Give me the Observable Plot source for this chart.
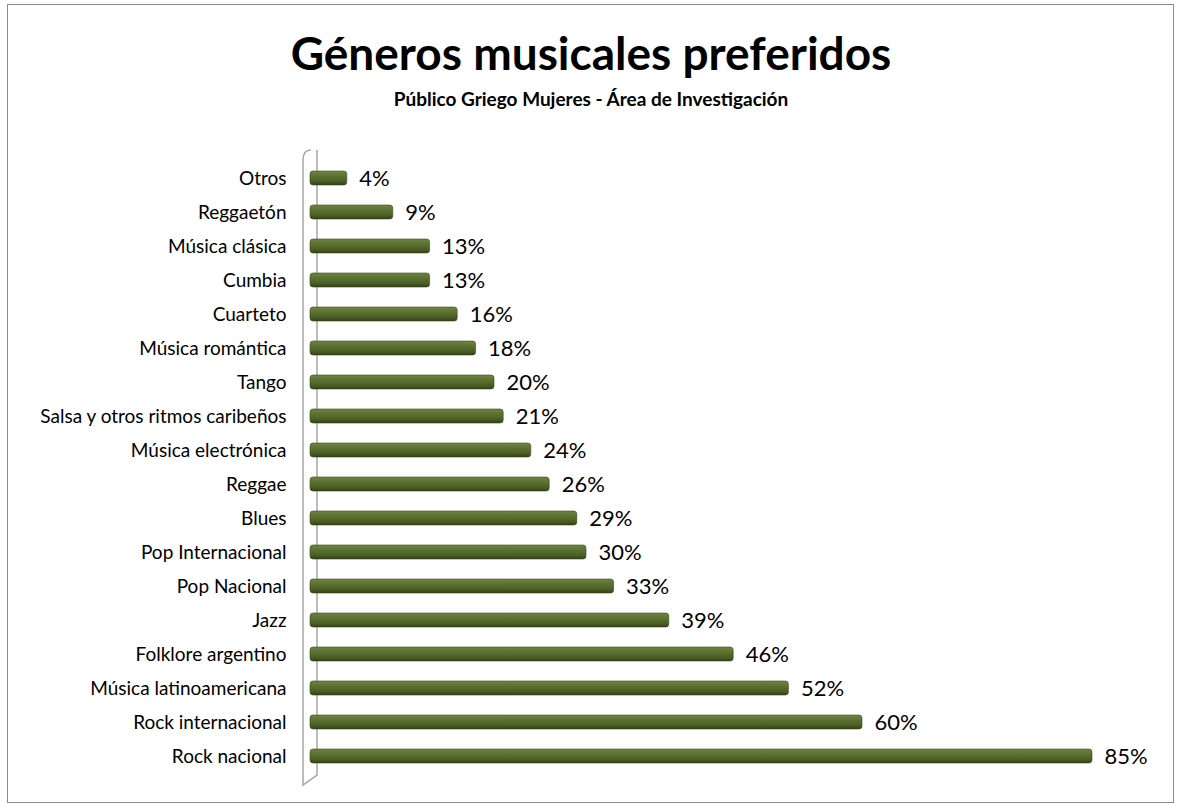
<!DOCTYPE html>
<html>
<head>
<meta charset="utf-8">
<script src="https://cdn.jsdelivr.net/npm/d3@7"></script>
<script src="https://cdn.jsdelivr.net/npm/@observablehq/plot@0.6"></script>
<style>
  html, body { margin: 0; padding: 0; background: #fff; }
  #wrap { position: relative; width: 1182px; height: 811px; font-family: Lato, "Open Sans", sans-serif; }
  #border { position: absolute; left: 7px; top: 4px; width: 1167px; height: 799px; border: 1px solid #8c8c8c; box-sizing: border-box; }
  #title { position: absolute; left: 0; width: 1182px; top: 25px; text-align: center; font-size: 46px; font-weight: bold; color: #000; line-height: 1.2; }
  #subtitle { position: absolute; left: 0; width: 1182px; top: 88px; text-align: center; font-size: 19px; font-weight: bold; color: #000; line-height: 1.2; }
  #chart { position: absolute; left: 0; top: 130px; }
  #chart svg g[aria-label="y-axis tick label"] text { font-size: 19px; }
</style>
</head>
<body>
<div id="wrap">
  <div id="border"></div>
  <div id="title">Géneros musicales preferidos</div>
  <div id="subtitle">Público Griego Mujeres - Área de Investigación</div>
  <div id="chart"></div>
</div>
<script>
const categories = [
  "Otros", "Reggaetón", "Música clásica", "Cumbia", "Cuarteto", "Música romántica",
  "Tango", "Salsa y otros ritmos caribeños", "Música electrónica", "Reggae", "Blues",
  "Pop Internacional", "Pop Nacional", "Jazz", "Folklore argentino",
  "Música latinoamericana", "Rock internacional", "Rock nacional"
];
const values = [4, 9, 13, 13, 16, 18, 20, 21, 24, 26, 29, 30, 33, 39, 46, 52, 60, 85];

const data = categories.map((c, i) => ({genre: c, value: values[i]}));

// Decorative 3D axis wall, drawn from the scales
function wall(index, scales, values, dimensions) {
  const x0 = scales.x(0);
  const y0 = dimensions.marginTop - 6;
  const y1 = dimensions.height - dimensions.marginBottom + 3;
  const g = d3.create("svg:g").attr("fill", "none").attr("stroke", "#a6a6a6").attr("stroke-width", 1.5);
  const d = `M${x0 - 7},${y0 + 8} L${x0 - 7},${y1 + 7} L${x0 + 7},${y1 - 3} L${x0 + 7},${y0 - 2} M${x0 - 7},${y0 + 8} Q${x0 - 7},${y0 - 2} ${x0 + 1},${y0 - 2}`;
  g.append("path").attr("d", d);
  return g.node();
}

const chart = Plot.plot({
  width: 1182,
  height: 680,
  marginLeft: 310,
  marginRight: 44,
  marginTop: 28,
  marginBottom: 35,
  style: {fontFamily: "Lato, 'Open Sans', sans-serif", background: "transparent"},
  x: {domain: [0, 90], axis: null},
  y: {domain: categories, paddingInner: 0.6, paddingOuter: 0.3, label: null, tickSize: 0, tickPadding: 24},
  marks: [
    () => {
      const svg = d3.create("svg:defs");
      const grad = svg.append("linearGradient").attr("id", "barGrad").attr("x1", 0).attr("x2", 0).attr("y1", 0).attr("y2", 1);
      grad.append("stop").attr("offset", "0%").attr("stop-color", "#6f8540");
      grad.append("stop").attr("offset", "35%").attr("stop-color", "#5c7231");
      grad.append("stop").attr("offset", "75%").attr("stop-color", "#4a5e24");
      grad.append("stop").attr("offset", "100%").attr("stop-color", "#313f16");
      return svg.node();
    },
    wall,
    Plot.barX(data, {y: "genre", x: "value", fill: "url(#barGrad)", stroke: "#3a4a1a", strokeWidth: 0.6, rx: 3}),
    Plot.text(data, {y: "genre", x: "value", text: d => d.value + "%", textAnchor: "start", dx: 12, fontSize: 22, fill: "#000"}),
    Plot.axisY({tickSize: 0, tickPadding: 24, fontSize: 19, label: null, color: "#000"})
  ]
});
document.getElementById("chart").appendChild(chart);
</script>
</body>
</html>
